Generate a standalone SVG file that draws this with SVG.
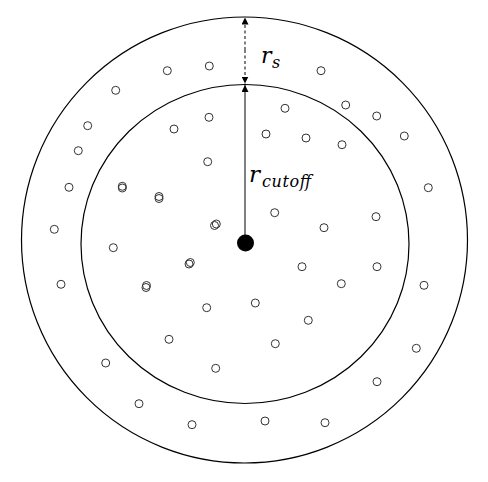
<svg xmlns="http://www.w3.org/2000/svg" width="488" height="482" viewBox="0 0 488 482">
<style>
.ring{fill:none;stroke:#000;stroke-width:1.2}
.p{fill:none;stroke:#333;stroke-width:1}
.lbl{font-family:"DejaVu Serif","Liberation Serif",serif;font-style:italic;fill:#000}
</style>
<defs>
<marker id="ah" viewBox="0 0 10 10" refX="10" refY="5" markerWidth="7" markerHeight="7" markerUnits="userSpaceOnUse" orient="auto">
<path d="M0,0 L10,5 L0,10 z" fill="#000"/>
</marker>
</defs>
<rect width="488" height="482" fill="#fff"/>
<g id="outer-circle"><circle class="ring" cx="244.5" cy="240" r="223"/></g>
<g id="inner-circle"><ellipse class="ring" cx="245" cy="244" rx="164" ry="159.5"/></g>
<g id="particles">
<circle class="p" cx="167.3" cy="70.7" r="4"/>
<circle class="p" cx="209.3" cy="66" r="4"/>
<circle class="p" cx="115.7" cy="90.3" r="4"/>
<circle class="p" cx="87.7" cy="125.7" r="4"/>
<circle class="p" cx="78.3" cy="150.7" r="4"/>
<circle class="p" cx="69" cy="187.3" r="4"/>
<circle class="p" cx="54.3" cy="229.3" r="4"/>
<circle class="p" cx="209" cy="117.3" r="4"/>
<circle class="p" cx="174" cy="129" r="4"/>
<circle class="p" cx="207.7" cy="161.7" r="4"/>
<circle class="p" cx="122.3" cy="188" r="4"/>
<circle class="p" cx="122.3" cy="186.3" r="4"/>
<circle class="p" cx="159" cy="198.5" r="4"/>
<circle class="p" cx="159" cy="196.5" r="4"/>
<circle class="p" cx="214.5" cy="225.5" r="4"/>
<circle class="p" cx="216.3" cy="224" r="4"/>
<circle class="p" cx="321" cy="70.7" r="4"/>
<circle class="p" cx="285" cy="108.3" r="4"/>
<circle class="p" cx="345.7" cy="105" r="4"/>
<circle class="p" cx="376.7" cy="116" r="4"/>
<circle class="p" cx="266" cy="134" r="4"/>
<circle class="p" cx="306" cy="138" r="4"/>
<circle class="p" cx="342" cy="144.7" r="4"/>
<circle class="p" cx="404.3" cy="136" r="4"/>
<circle class="p" cx="428.3" cy="187.7" r="4"/>
<circle class="p" cx="274.7" cy="212.7" r="4"/>
<circle class="p" cx="376" cy="216.7" r="4"/>
<circle class="p" cx="324" cy="227.7" r="4"/>
<circle class="p" cx="113.3" cy="247.7" r="4"/>
<circle class="p" cx="189" cy="264" r="4"/>
<circle class="p" cx="190.3" cy="262.5" r="4"/>
<circle class="p" cx="146" cy="287.5" r="4"/>
<circle class="p" cx="146.5" cy="285.5" r="4"/>
<circle class="p" cx="61" cy="284.3" r="4"/>
<circle class="p" cx="206.7" cy="307.7" r="4"/>
<circle class="p" cx="169" cy="339.3" r="4"/>
<circle class="p" cx="105.7" cy="363" r="4"/>
<circle class="p" cx="215.7" cy="368.3" r="4"/>
<circle class="p" cx="139" cy="403.7" r="4"/>
<circle class="p" cx="192" cy="424.7" r="4"/>
<circle class="p" cx="302" cy="266.7" r="4"/>
<circle class="p" cx="377" cy="266.7" r="4"/>
<circle class="p" cx="341.3" cy="283.7" r="4"/>
<circle class="p" cx="424" cy="285.3" r="4"/>
<circle class="p" cx="255.3" cy="303" r="4"/>
<circle class="p" cx="308.3" cy="320.3" r="4"/>
<circle class="p" cx="275.3" cy="343.7" r="4"/>
<circle class="p" cx="416.3" cy="348.3" r="4"/>
<circle class="p" cx="377" cy="381.7" r="4"/>
<circle class="p" cx="265" cy="421" r="4"/>
<circle class="p" cx="325" cy="422.7" r="4"/>
</g>
<g id="center"><circle cx="245.5" cy="243" r="8.5" fill="#000"/></g>
<g id="connectors">
<line x1="245" y1="243" x2="245" y2="85" stroke="#000" stroke-width="1" marker-end="url(#ah)"/>
<line x1="245" y1="50" x2="245" y2="17.5" stroke="#000" stroke-width="1" stroke-dasharray="3,2.5" marker-end="url(#ah)"/>
<line x1="245" y1="50" x2="245" y2="83.5" stroke="#000" stroke-width="1" stroke-dasharray="3,2.5" marker-end="url(#ah)"/>
</g>
<g id="labels">
<text class="lbl" x="261" y="63" font-size="22">r<tspan x="272" y="68" font-size="16">s</tspan></text>
<text class="lbl" x="249" y="182" font-size="23">r<tspan x="262" y="187" font-size="16" textLength="49" lengthAdjust="spacing">cutoff</tspan></text>
</g>
</svg>
